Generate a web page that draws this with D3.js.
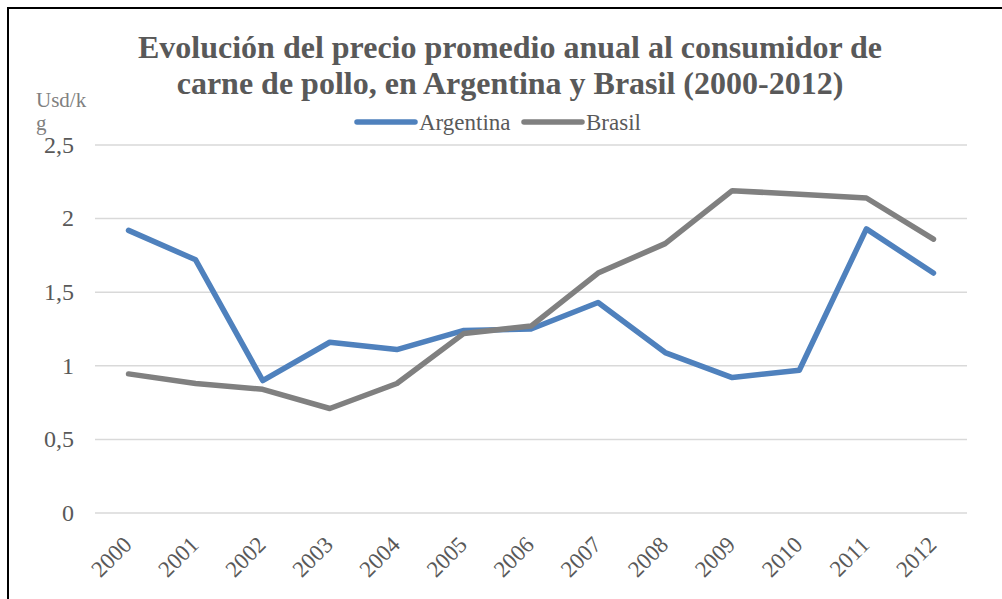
<!DOCTYPE html>
<html>
<head>
<meta charset="utf-8">
<script src="https://cdn.jsdelivr.net/npm/d3@7"></script>
</head>
<body style="margin:0; background:#fff">
<svg width="1002" height="599" font-family="Liberation Serif, serif"></svg>
<script>
(function(d3) {
    'use strict';

    const years = ['2000', '2001', '2002', '2003', '2004', '2005', '2006',
        '2007', '2008', '2009', '2010', '2011', '2012'];
    const argentina = [1.92, 1.72, 0.90, 1.16, 1.11, 1.24, 1.25, 1.43, 1.09, 0.92, 0.97, 1.93, 1.63];
    const brasil = [0.945, 0.88, 0.84, 0.71, 0.88, 1.22, 1.27, 1.63, 1.83, 2.19, 2.165, 2.14, 1.86];
    const yTicks = [0, 0.5, 1, 1.5, 2, 2.5];
    const seriesNames = ['Argentina', 'Brasil'];
    const seriesColors = ['#4f81bd', '#808080'];

    const serif = 'Liberation Serif, Times New Roman, serif';
    const svg = d3.select('svg');

    // sets the serif face both ways so nothing falls back to sans
    const face = (sel, size) => sel
        .attr('font-family', serif)
        .style('font-family', serif)
        .style('font-size', size + 'px');

    // frame
    svg.append('rect')
        .attr('x', 8).attr('y', 8)
        .attr('width', 1010).attr('height', 620)
        .attr('fill', 'none')
        .attr('stroke', '#000')
        .attr('stroke-width', 2);

    const xScale = d3.scalePoint()
        .domain(years)
        .range([95, 967])
        .padding(0.5);

    const yScale = d3.scaleLinear()
        .domain([0, 2.5])
        .range([513, 145]);

    // gridlines
    svg.append('g')
        .selectAll('line')
        .data(yTicks)
        .enter().append('line')
        .attr('x1', 95).attr('x2', 967)
        .attr('y1', d => yScale(d)).attr('y2', d => yScale(d))
        .attr('stroke', '#d9d9d9')
        .attr('stroke-width', 1.5);

    // y axis
    const fmt = d => String(d).replace('.', ',');
    svg.append('g')
        .attr('transform', 'translate(74,0)')
        .call(d3.axisLeft(yScale).tickValues(yTicks).tickFormat(fmt).tickSize(0).tickPadding(0))
        .attr('font-family', serif)
        .call(g => g.select('.domain').remove())
        .call(g => face(g.selectAll('text'), 24)
            .attr('fill', '#595959')
            .attr('dy', '0.3em'));

    // x axis
    svg.append('g')
        .attr('transform', 'translate(0,513)')
        .call(d3.axisBottom(xScale).tickSize(0).tickPadding(0))
        .attr('font-family', serif)
        .call(g => g.select('.domain').remove())
        .call(g => face(g.selectAll('text'), 23)
            .attr('fill', '#595959')
            .attr('text-anchor', 'end')
            .attr('y', 0)
            .attr('dy', 0)
            .attr('transform', 'translate(4,33) rotate(-45)'));

    // lines
    const line = d3.line()
        .x((d, i) => xScale(years[i]))
        .y(d => yScale(d));

    [argentina, brasil].forEach((values, k) => {
        svg.append('path')
            .datum(values)
            .attr('d', line)
            .attr('fill', 'none')
            .attr('stroke', seriesColors[k])
            .attr('stroke-width', 5.5)
            .attr('stroke-linejoin', 'round')
            .attr('stroke-linecap', 'round');
    });

    // title
    const title = face(svg.append('text'), 32)
        .attr('text-anchor', 'middle')
        .style('font-weight', 'bold')
        .attr('fill', '#595959');
    title.append('tspan').attr('x', 510).attr('y', 58)
        .text('Evolución del precio promedio anual al consumidor de');
    title.append('tspan').attr('x', 510).attr('y', 94)
        .text('carne de pollo, en Argentina y Brasil (2000-2012)');

    // y axis label
    const yLabel = face(svg.append('text'), 21)
        .attr('fill', '#808080');
    yLabel.append('tspan').attr('x', 36).attr('y', 107).text('Usd/k');
    yLabel.append('tspan').attr('x', 36).attr('y', 130).text('g');

    // legend
    const legendX = [357, 524];
    const legend = svg.append('g')
        .selectAll('g')
        .data(seriesNames)
        .enter().append('g')
        .attr('transform', (d, i) => `translate(${legendX[i]},122)`);
    legend.append('line')
        .attr('x1', 0).attr('x2', 58)
        .attr('stroke', (d, i) => seriesColors[i])
        .attr('stroke-width', 5.5)
        .attr('stroke-linecap', 'round');
    face(legend.append('text'), 23)
        .attr('x', 62)
        .attr('dy', '0.35em')
        .attr('fill', '#595959')
        .text(d => d);
}(d3));
</script>
</body>
</html>
